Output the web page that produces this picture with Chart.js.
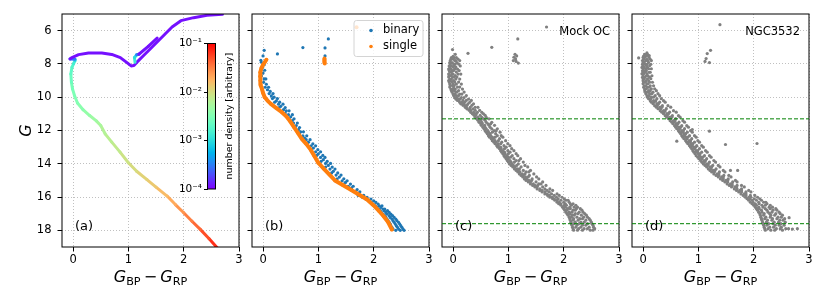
<!DOCTYPE html>
<html><head><meta charset="utf-8">
<script src="https://cdn.jsdelivr.net/npm/chart.js@4.4.1/dist/chart.umd.min.js"></script>
<style>
html,body{margin:0;padding:0;background:#fff;}
#wrap{position:relative;width:830px;height:291px;overflow:hidden;background:#fff;}
canvas{position:absolute;}
</style></head><body>
<div id="wrap">
<canvas id="ca"></canvas><canvas id="cb"></canvas><canvas id="cc"></canvas><canvas id="cd"></canvas><canvas id="cbar"></canvas>
</div>
<script>
// ---------------- data ----------------
const xTicks = [0, 1, 2, 3];
const yTicks = [6, 8, 10, 12, 14, 16, 18];
const cbTicks = [1e-4, 1e-3, 1e-2, 1e-1];
const cbLabels = ['10\u207B\u2074', '10\u207B\u00B3', '10\u207B\u00B2', '10\u207B\u00B9'];
const panelLabels = ['(a)', '(b)', '(c)', '(d)'];
const clusterNames = ['Mock OC', 'NGC3532'];
const legendNames = ['binary', 'single'];
const cbTitle = 'number density [arbitrary]';
const cutMags = [11.3, 17.6];

// isochrone (panel a): colour, G, number density
const isoX = [2.62,2.46,2.30,2.15,2.00,1.85,1.70,1.50,1.33,1.15,1.00,0.85,0.70,0.58,0.50,0.42,0.30,0.18,0.08,0.03,-0.01,-0.03,-0.04,-0.02,0.01,0.035,0.035,-0.055,-0.02,0.10,0.28,0.52,0.70,0.855,0.98,1.05,1.10,1.16,1.28,1.43,1.61,1.79,1.95,2.18,2.42,2.70];
const isoG = [19.1,18.5,17.94,17.45,16.94,16.45,15.94,15.40,14.94,14.45,13.94,13.30,12.70,12.20,11.70,11.42,11.10,10.75,10.35,9.94,9.50,9.10,8.60,8.20,7.98,7.80,7.72,7.70,7.62,7.44,7.34,7.35,7.43,7.62,7.94,8.12,8.10,7.88,7.48,6.98,6.38,5.78,5.40,5.22,5.08,5.02];
const isoDens = [0.076,0.058,0.044,0.035,0.029,0.022,0.018,0.0145,0.0126,0.011,0.0095,0.0083,0.0072,0.0068,0.0059,0.0051,0.0045,0.0039,0.0034,0.0032,0.0030,0.0026,0.0022,0.0019,0.0016,0.0012,0.0008,1.15e-4,1.15e-4,1.15e-4,1.15e-4,1.15e-4,1.15e-4,1.15e-4,1.15e-4,1.15e-4,1.15e-4,1.15e-4,1.15e-4,1.15e-4,1.15e-4,1.15e-4,1.15e-4,1.15e-4,1.15e-4,1.15e-4];
// red clump + AGB branch
const agbX = [1.12,1.11,1.15,1.19,1.36,1.52];
const agbG = [7.90,7.62,7.45,7.42,6.95,6.45];
const agbDens = [0.0014,0.0012,0.0008,1.2e-4,1.15e-4,1.15e-4];

// panel b: single stars [colour, G]
const singleMS = [[0.06,7.75],[0.03,7.9],[0.0,8.05],[-0.03,8.25],[-0.05,8.5],[-0.055,8.75],[-0.05,9.0],[-0.04,9.25],[-0.02,9.5],[0.0,9.75],[0.03,10.0],[0.08,10.2],[0.14,10.4],[0.24,10.65],[0.34,10.9],[0.42,11.15],[0.49,11.45],[0.56,11.8],[0.63,12.15],[0.7,12.5],[0.78,12.8],[0.86,13.15],[0.93,13.55],[1.0,13.95],[1.1,14.3],[1.2,14.65],[1.3,15.0],[1.44,15.28],[1.58,15.55],[1.73,15.85],[1.88,16.15],[2.0,16.5],[2.1,16.85],[2.18,17.15],[2.26,17.5],[2.33,17.95]];
const singleEvolved = [[1.69,5.8],[1.11,7.68],[1.11,7.74],[1.11,7.8],[1.11,7.86],[1.11,7.92],[1.115,7.98]];
// binaries: isolated stars [colour, G] and rows [G, colour, colour, ...]
const binaryBright = [[0.02,7.18],[0.26,7.4],[0.72,7.02],[1.12,7.04],[1.18,6.5],[1.12,7.52],[0.0,7.52],[-0.04,7.78]];
const binaryRows = [[7.9,-0.03],[8.05,0.02],[8.2,-0.01],[8.38,-0.04,0.03],[8.55,0.0],[8.72,-0.03],[8.9,0.02,0.05],[9.1,0.01],[9.22,0.06],[9.4,0.04,0.1],[9.55,0.08],[9.65,0.13],[9.78,0.11,0.18],[9.92,0.15],[10.0,0.2],[10.08,0.17,0.26],[10.22,0.24],[10.3,0.21,0.3],[10.42,0.28,0.36],[10.55,0.32],[10.62,0.29,0.4],[10.75,0.37],[10.82,0.42,0.47],[10.95,0.4],[11.05,0.46,0.53],[11.18,0.5],[11.3,0.47,0.56],[11.4,0.53],[11.55,0.55,0.62],[11.7,0.6],[11.82,0.58,0.66],[11.95,0.64],[12.08,0.68,0.73],[12.2,0.66],[12.32,0.72,0.79],[12.45,0.75],[12.55,0.78,0.85],[12.7,0.82],[12.8,0.8,0.9],[12.92,0.87,0.95],[13.05,0.91],[13.15,0.88,0.99],[13.28,0.95,1.04],[13.4,1.0],[13.5,0.97,1.08],[13.62,1.04,1.12],[13.75,1.09],[13.85,1.05,1.16],[13.98,1.13,1.22],[14.1,1.18],[14.2,1.13,1.25],[14.32,1.21,1.3],[14.45,1.27],[14.55,1.24,1.35],[14.68,1.32,1.41],[14.8,1.38],[14.9,1.34,1.46],[15.02,1.43,1.52],[15.12,1.49],[15.22,1.46,1.58],[15.35,1.54,1.63],[15.45,1.6],[15.55,1.58,1.7],[15.68,1.67,1.75],[15.8,1.73],[15.9,1.72,1.82],[16.02,1.8,1.88],[16.12,1.86,1.95],[16.22,1.91,2.0],[16.32,1.96,2.04],[16.42,1.99,2.08],[16.52,2.03,2.1,2.15],[16.62,2.06,2.13],[16.72,2.09,2.17,2.2],[16.82,2.12,2.19,2.25],[16.92,2.14,2.22,2.28],[17.02,2.17,2.24,2.31],[17.12,2.2,2.28,2.34],[17.22,2.22,2.3,2.37],[17.32,2.24,2.33,2.4],[17.42,2.26,2.35,2.42],[17.52,2.28,2.37,2.45],[17.62,2.3,2.39,2.47],[17.72,2.31,2.41,2.49],[17.82,2.33,2.43,2.51],[17.92,2.35,2.45,2.53],[18.0,2.4,2.48,2.55]];

// panel c: isolated stars [colour, G] and rows [G, colour, ...]
const mockExtra = [[1.69,5.78],[1.17,6.5],[0.70,7.0],[0.27,7.36],[-0.01,7.14],[0.04,7.42],[0.0,7.55],[1.12,7.42],[1.15,7.52],[1.1,7.6],[1.13,7.7],[1.09,7.8],[1.14,7.85],[1.18,7.95]];
const mockRows = [[7.62,-0.03,0.02,0.06],[7.71,-0.04,0.0,0.09],[7.80,-0.05,0.03,0.05,0.12],[7.92,-0.06,-0.02,0.07],[8.01,-0.05,0.01,0.04,0.1],[8.12,-0.07,-0.03,0.02,0.13],[8.19,-0.06,0.0,0.05],[8.31,-0.08,-0.04,0.03,0.08],[8.40,-0.07,-0.01,0.01,0.11],[8.49,-0.06,-0.03,0.06],[8.61,-0.08,-0.02,0.0,0.09,0.14],[8.70,-0.07,-0.04,0.04],[8.79,-0.08,-0.01,0.02,0.07],[8.91,-0.06,-0.03,0.05,0.12],[9.00,-0.08,-0.05,0.01],[9.09,-0.07,-0.02,0.03,0.1],[9.21,-0.06,0.0,0.06,0.15],[9.30,-0.05,-0.01,0.02],[9.39,-0.06,0.01,0.08,0.12],[9.51,-0.04,0.0,0.04,0.17],[9.60,-0.03,0.02,0.1],[9.69,-0.02,0.05,0.07,0.2],[9.81,0.0,0.03,0.12,0.16],[9.90,0.01,0.06,0.1,0.24],[10.02,0.03,0.07,0.15,0.2],[10.11,0.05,0.11,0.13,0.28],[10.19,0.08,0.1,0.18,0.24,0.33],[10.31,0.12,0.16,0.21,0.3],[10.40,0.14,0.19,0.27,0.37],[10.49,0.18,0.21,0.25,0.34],[10.61,0.22,0.24,0.31,0.4,0.45],[10.70,0.25,0.3,0.36],[10.79,0.29,0.32,0.4,0.48],[10.91,0.32,0.37,0.44,0.52],[11.00,0.35,0.4,0.42,0.55],[11.09,0.38,0.41,0.49,0.58],[11.21,0.4,0.45,0.52,0.6],[11.30,0.43,0.46,0.55,0.65],[11.39,0.45,0.5,0.58],[11.51,0.47,0.52,0.6,0.7],[11.60,0.5,0.53,0.63,0.68],[11.69,0.51,0.57,0.65,0.75],[11.81,0.54,0.58,0.67],[11.90,0.56,0.6,0.7,0.8],[12.01,0.58,0.63,0.74,0.78],[12.10,0.6,0.64,0.71,0.85],[12.19,0.62,0.67,0.77],[12.31,0.64,0.68,0.8,0.87],[12.40,0.66,0.71,0.76,0.9],[12.49,0.69,0.73,0.84],[12.61,0.71,0.76,0.82,0.95],[12.70,0.74,0.77,0.88],[12.79,0.76,0.81,0.86,0.99],[12.91,0.79,0.82,0.92,1.03],[13.00,0.81,0.86,0.96],[13.09,0.84,0.87,0.93,1.06],[13.21,0.86,0.9,0.99,1.1],[13.30,0.88,0.93,1.03],[13.39,0.9,0.94,1.0,1.14],[13.51,0.92,0.97,1.07,1.17],[13.60,0.94,0.99,1.04],[13.69,0.96,1.0,1.1,1.22],[13.81,0.98,1.03,1.14,1.19],[13.90,1.0,1.05,1.11,1.27],[14.01,1.02,1.07,1.18],[14.10,1.05,1.09,1.15,1.3],[14.19,1.08,1.12,1.23,1.35],[14.31,1.11,1.16,1.2],[14.40,1.14,1.18,1.27,1.4],[14.49,1.17,1.21,1.32,1.37],[14.61,1.2,1.25,1.3,1.46],[14.70,1.23,1.27,1.38],[14.79,1.26,1.31,1.36,1.51],[14.91,1.29,1.33,1.43,1.55],[15.00,1.32,1.37,1.42],[15.09,1.36,1.4,1.5,1.62],[15.21,1.4,1.45,1.55,1.59],[15.30,1.44,1.48,1.53,1.68],[15.39,1.48,1.52,1.62],[15.51,1.52,1.57,1.66,1.75],[15.60,1.57,1.61,1.7,1.8],[15.69,1.61,1.66,1.74],[15.81,1.66,1.7,1.78,1.88],[15.90,1.71,1.74,1.83,1.92],[16.01,1.75,1.79,1.87,1.97],[16.10,1.8,1.83,1.9,2.01],[16.19,1.84,1.88,1.95,2.04,2.08],[16.31,1.88,1.92,2.0,2.1],[16.40,1.91,1.95,2.03,2.12,2.17],[16.49,1.95,2.01,2.05,2.14,2.22],[16.61,1.98,2.03,2.11,2.19,2.25],[16.70,2.0,2.07,2.12,2.23,2.3],[16.79,2.02,2.06,2.17,2.21,2.33],[16.91,2.04,2.1,2.15,2.28,2.35],[17.00,2.06,2.11,2.21,2.26,2.38],[17.09,2.08,2.15,2.19,2.32,2.41],[17.21,2.1,2.14,2.24,2.36,2.43],[17.30,2.11,2.18,2.29,2.34,2.46],[17.39,2.12,2.17,2.26,2.4,2.48],[17.51,2.13,2.21,2.31,2.37,2.5],[17.60,2.14,2.19,2.28,2.43,2.51],[17.69,2.15,2.24,2.34,2.4,2.53],[17.81,2.16,2.22,2.31,2.46,2.54],[17.90,2.17,2.27,2.37,2.43,2.56],[17.99,2.18,2.25,2.34,2.48,2.53]];

// panel d
const ngcExtra = [[1.39,5.64],[1.22,7.18],[1.16,7.38],[1.14,7.68],[1.2,7.92],[1.12,7.85],[-0.08,7.64],[0.07,7.34],[0.11,7.5],[1.2,12.04],[0.89,11.94],[1.49,12.84],[2.06,12.78],[0.61,12.64],[1.58,14.4],[1.71,14.4],[2.64,17.24],[2.79,17.9],[2.63,17.9],[2.7,17.92]];
const ngcRows = [[7.42,0.03,0.08],[7.53,0.01,0.06,0.1],[7.61,0.0,0.03,0.11],[7.72,0.01,0.07,0.13],[7.80,-0.01,0.05,0.08,0.15],[7.91,0.0,0.02,0.1],[8.02,-0.01,0.04,0.07,0.14],[8.10,0.0,0.06,0.12],[8.21,-0.02,0.02,0.08],[8.29,0.0,0.05,0.1,0.15],[8.41,-0.01,0.03,0.06],[8.50,0.0,0.04,0.11,0.13],[8.59,-0.02,0.01,0.07],[8.71,0.0,0.06,0.09,0.16],[8.80,-0.01,0.03,0.12],[8.89,0.0,0.02,0.08,0.14],[9.01,0.0,0.05,0.1],[9.10,0.01,0.04,0.12,0.17],[9.19,0.0,0.07,0.09],[9.31,0.02,0.05,0.13,0.19],[9.40,0.01,0.08,0.11],[9.49,0.03,0.06,0.15,0.21],[9.61,0.03,0.1,0.13,0.24],[9.70,0.05,0.09,0.18],[9.79,0.05,0.12,0.16,0.27],[9.91,0.07,0.11,0.22,0.3],[10.00,0.08,0.15,0.19],[10.09,0.1,0.14,0.25,0.33],[10.21,0.13,0.19,0.23,0.37],[10.30,0.15,0.2,0.3,0.4],[10.39,0.18,0.25,0.28],[10.51,0.21,0.26,0.35,0.45],[10.60,0.24,0.31,0.34,0.5],[10.69,0.27,0.32,0.42],[10.81,0.31,0.37,0.4,0.55],[10.90,0.34,0.38,0.48,0.6],[10.99,0.37,0.43,0.46],[11.11,0.4,0.44,0.53,0.64],[11.20,0.43,0.49,0.52,0.67],[11.29,0.46,0.5,0.59],[11.41,0.49,0.55,0.58,0.72],[11.50,0.52,0.56,0.65,0.75],[11.59,0.54,0.6,0.63],[11.71,0.57,0.61,0.7,0.79],[11.80,0.59,0.65,0.68,0.82],[11.89,0.61,0.66,0.75],[12.01,0.64,0.7,0.73,0.86],[12.10,0.66,0.71,0.8,0.89],[12.19,0.68,0.74,0.77],[12.31,0.7,0.75,0.84,0.93],[12.40,0.72,0.78,0.81,0.96],[12.49,0.74,0.79,0.88],[12.61,0.77,0.83,0.86,0.99],[12.70,0.79,0.84,0.93,1.02],[12.79,0.81,0.87,0.9],[12.91,0.84,0.89,0.97,1.06],[13.00,0.86,0.92,0.95,1.09],[13.09,0.88,0.93,1.02],[13.21,0.9,0.96,0.99,1.13],[13.30,0.92,0.97,1.06,1.16],[13.39,0.94,1.0,1.03],[13.51,0.96,1.02,1.11,1.2],[13.60,0.99,1.05,1.08,1.23],[13.69,1.01,1.06,1.15],[13.81,1.04,1.1,1.13,1.28],[13.90,1.06,1.11,1.2,1.31],[14.01,1.09,1.15,1.18],[14.10,1.12,1.17,1.26,1.36],[14.19,1.15,1.21,1.24,1.39],[14.31,1.18,1.23,1.32],[14.40,1.21,1.27,1.3,1.45],[14.49,1.24,1.29,1.38,1.48],[14.61,1.28,1.34,1.37],[14.70,1.32,1.37,1.46,1.55],[14.79,1.36,1.42,1.45,1.59],[14.91,1.4,1.45,1.54],[15.00,1.44,1.5,1.53,1.67],[15.09,1.48,1.53,1.62,1.7],[15.21,1.52,1.58,1.61],[15.30,1.56,1.61,1.7,1.78],[15.39,1.6,1.66,1.69,1.83],[15.51,1.65,1.7,1.78],[15.60,1.69,1.75,1.78,1.91],[15.69,1.73,1.78,1.86,1.95],[15.81,1.77,1.83,1.86],[15.90,1.81,1.86,1.94,2.02],[16.01,1.85,1.91,1.95,2.07],[16.10,1.88,1.93,2.01,2.11],[16.19,1.91,1.97,2.05,2.14],[16.31,1.94,1.99,2.09,2.18,2.22],[16.40,1.97,2.03,2.1,2.24],[16.49,2.0,2.05,2.15,2.21,2.3],[16.61,2.03,2.09,2.17,2.28,2.34],[16.70,2.05,2.1,2.21,2.3,2.4],[16.79,2.07,2.14,2.24,2.35,2.42],[16.91,2.09,2.15,2.26,2.33,2.46],[17.00,2.11,2.19,2.29,2.4,2.48],[17.09,2.12,2.18,2.31,2.38,2.52],[17.21,2.13,2.22,2.3,2.44,2.5],[17.30,2.14,2.2,2.34,2.42,2.56],[17.39,2.15,2.25,2.33,2.47,2.53],[17.51,2.16,2.23,2.37,2.45,2.57],[17.60,2.17,2.27,2.35,2.49],[17.69,2.18,2.24,2.39,2.46,2.55],[17.81,2.19,2.29,2.36,2.5],[17.90,2.2,2.26,2.41,2.48,2.58],[17.99,2.21,2.31,2.38,2.52]];

// ---------------- drawing ----------------
const FONT = '"DejaVu Sans", sans-serif';
Chart.defaults.font.family = FONT;
Chart.defaults.font.size = 11.5;
Chart.defaults.color = '#000';
Chart.defaults.animation = false;

function rainbow(t) {
  t = Math.max(0, Math.min(1, t));
  const r = Math.min(1, Math.abs(2 * t - 0.5)), g = Math.sin(Math.PI * t), b = Math.cos(Math.PI * t / 2);
  return `rgb(${Math.round(r*255)},${Math.round(g*255)},${Math.round(b*255)})`;
}
const densT = d => (Math.log10(d) - Math.log10(cbTicks[0])) / (Math.log10(cbTicks[cbTicks.length-1]) - Math.log10(cbTicks[0]));
const toPts = arr => arr.map(p => ({x: p[0], y: p[1]}));
const rowPts = rows => rows.flatMap(r => r.slice(1).map(x => ({x, y: r[0]})));
const zip = (xs, ys) => xs.map((x, i) => ({x, y: ys[i]}));

function setupCanvas(id, left, top, w, h) {
  const c = document.getElementById(id);
  c.width = w; c.height = h;
  c.style.left = left + 'px'; c.style.top = top + 'px';
  c.style.width = w + 'px'; c.style.height = h + 'px';
  return c;
}

const gridOpts = {color: '#b0b0b0', lineWidth: 0.8, tickLength: 4.5, tickColor: '#000', tickWidth: 1, tickBorderDash: [], drawTicks: true};
const borderOpts = {display: false, dash: [1, 2]};

function xAxis() {
  return {
    type: 'linear', min: -0.2, max: 3,
    afterBuildTicks: s => { s.ticks = xTicks.map(v => ({value: v})); },
    ticks: {autoSkip: false, maxRotation: 0, padding: 2, callback: v => String(v)},
    grid: gridOpts, border: borderOpts,
    afterFit: s => { s.height = 44; s.paddingLeft = 0; s.paddingRight = 0; }
  };
}
function yAxis(width, showLabels) {
  return {
    type: 'linear', reverse: true, min: 5, max: 19,
    afterBuildTicks: s => { s.ticks = yTicks.map(v => ({value: v})); },
    ticks: {display: showLabels, autoSkip: false, padding: 6, callback: v => String(v)},
    grid: gridOpts, border: borderOpts,
    afterFit: s => { s.width = width; s.paddingTop = 0; s.paddingBottom = 0; }
  };
}

function drawXLabel(chart) {
  const {ctx, chartArea: a} = chart;
  const size = 16, sub = size * 0.7;
  const parts = [
    {t: 'G', f: `italic ${size}px ${FONT}`, dy: 0, gap: 0},
    {t: 'BP', f: `${sub}px ${FONT}`, dy: size * 0.2, gap: 0},
    {t: '\u2212', f: `${size}px ${FONT}`, dy: 0, gap: size * 0.2},
    {t: 'G', f: `italic ${size}px ${FONT}`, dy: 0, gap: size * 0.2},
    {t: 'RP', f: `${sub}px ${FONT}`, dy: size * 0.2, gap: 0}
  ];
  ctx.save();
  let total = 0;
  parts.forEach(p => { ctx.font = p.f; p.w = ctx.measureText(p.t).width; total += p.gap + p.w; });
  let x = (a.left + a.right) / 2 - total / 2;
  const base = 282;
  ctx.fillStyle = '#000'; ctx.textBaseline = 'alphabetic'; ctx.textAlign = 'left';
  parts.forEach(p => {
    x += p.gap;
    ctx.font = p.f;
    ctx.fillText(p.t, x, base + p.dy);
    x += p.w;
  });
  ctx.restore();
}

const framePlugin = {
  id: 'frame',
  afterDatasetsDraw(chart) {
    const {ctx, chartArea: a} = chart;
    ctx.save(); ctx.strokeStyle = '#000'; ctx.lineWidth = 1;
    ctx.strokeRect(a.left, a.top, a.right - a.left, a.bottom - a.top);
    ctx.restore();
  }
};

function panelPlugin(idx, opts) {
  return {
    id: 'panel' + idx,
    afterDatasetsDraw(chart) {
      const {ctx, chartArea: a} = chart;
      ctx.save();
      if (opts.cuts) {
        ctx.strokeStyle = '#008000'; ctx.lineWidth = 1; ctx.setLineDash([4, 2]);
        cutMags.forEach(g => {
          const y = chart.scales.y.getPixelForValue(g);
          ctx.beginPath(); ctx.moveTo(a.left, y); ctx.lineTo(a.right, y); ctx.stroke();
        });
        ctx.setLineDash([]);
      }
      ctx.fillStyle = '#000';
      ctx.font = `13px ${FONT}`; ctx.textAlign = 'left'; ctx.textBaseline = 'middle';
      ctx.fillText(panelLabels[idx], a.left + 13, a.bottom - 20);
      if (opts.name) {
        ctx.font = `11.5px ${FONT}`; ctx.textAlign = 'right';
        ctx.fillText(opts.name, a.right - 9, a.top + 18);
      }
      if (opts.legend) {
        const w = 69, h = 36, x0 = a.right - 6 - w, y0 = a.top + 6.5, r = 2.5;
        ctx.beginPath();
        ctx.moveTo(x0 + r, y0); ctx.lineTo(x0 + w - r, y0); ctx.arcTo(x0 + w, y0, x0 + w, y0 + r, r);
        ctx.lineTo(x0 + w, y0 + h - r); ctx.arcTo(x0 + w, y0 + h, x0 + w - r, y0 + h, r);
        ctx.lineTo(x0 + r, y0 + h); ctx.arcTo(x0, y0 + h, x0, y0 + h - r, r);
        ctx.lineTo(x0, y0 + r); ctx.arcTo(x0, y0, x0 + r, y0, r); ctx.closePath();
        ctx.fillStyle = 'rgba(255,255,255,0.8)'; ctx.fill();
        ctx.strokeStyle = '#d4d4d4'; ctx.lineWidth = 1; ctx.stroke();
        const cols = ['#1f77b4', '#ff7f0e'];
        legendNames.forEach((n, i) => {
          const yy = y0 + 10 + i * 16;
          ctx.fillStyle = cols[i]; ctx.beginPath(); ctx.arc(x0 + 17, yy, 1.8, 0, Math.PI * 2); ctx.fill();
          ctx.fillStyle = '#000'; ctx.font = `11.5px ${FONT}`; ctx.textAlign = 'left'; ctx.textBaseline = 'middle';
          ctx.fillText(n, x0 + 29, yy);
        });
      }
      ctx.restore();
    },
    afterDraw(chart) {
      drawXLabel(chart);
      if (opts.ylabel) {
        const ctx = chart.ctx;
        ctx.save(); ctx.translate(30.5, (chart.chartArea.top + chart.chartArea.bottom) / 2);
        ctx.rotate(-Math.PI / 2);
        ctx.font = `italic 16px ${FONT}`; ctx.fillStyle = '#000'; ctx.textAlign = 'center'; ctx.textBaseline = 'alphabetic';
        ctx.fillText('G', 0, 0); ctx.restore();
      }
    }
  };
}

function baseOptions(yW, showY, pad) {
  return {
    responsive: false, maintainAspectRatio: false, animation: false, events: [],
    layout: {padding: pad},
    plugins: {legend: {display: false}, tooltip: {enabled: false}},
    scales: {x: xAxis(), y: yAxis(yW, showY)}
  };
}

function isoDataset(xs, gs, ds, order) {
  return {
    type: 'line', data: zip(xs, gs), order,
    borderWidth: 3, pointRadius: 0, fill: false, tension: 0,
    borderCapStyle: 'round', borderJoinStyle: 'round',
    borderColor: rainbow(densT(ds[0])),
    segment: {borderColor: c => rainbow((densT(ds[c.p0DataIndex]) + densT(ds[c.p1DataIndex])) / 2)}
  };
}
function scatterDs(points, color, order, r) {
  return {type: 'scatter', data: points, backgroundColor: color, borderWidth: 0, pointRadius: r, order};
}

// panel a
new Chart(setupCanvas('ca', 0, 0, 245, 291), {
  type: 'scatter',
  data: {datasets: [isoDataset(isoX, isoG, isoDens, 1), isoDataset(agbX, agbG, agbDens, 0)]},
  options: baseOptions(62, true, {top: 14, right: 6, left: 0, bottom: 0}),
  plugins: [framePlugin, panelPlugin(0, {ylabel: true})]
});
// panel b
new Chart(setupCanvas('cb', 245, 0, 190, 291), {
  type: 'scatter',
  data: {datasets: [
    {type: 'line', data: toPts(singleMS), borderColor: '#ff7f0e', borderWidth: 4, pointRadius: 1.8, pointBackgroundColor: '#ff7f0e', pointBorderWidth: 0, fill: false, tension: 0, borderCapStyle: 'round', borderJoinStyle: 'round', order: 0},
    scatterDs(toPts(singleEvolved), '#ff7f0e', 0, 2),
    scatterDs(toPts(binaryBright).concat(rowPts(binaryRows)), '#1f77b4', 1, 1.6)
  ]},
  options: baseOptions(7, false, {top: 14, right: 6, left: 0, bottom: 0}),
  plugins: [framePlugin, panelPlugin(1, {legend: true})]
});
// panel c
new Chart(setupCanvas('cc', 435, 0, 190, 291), {
  type: 'scatter',
  data: {datasets: [scatterDs(toPts(mockExtra).concat(rowPts(mockRows)), '#808080', 0, 1.6)]},
  options: baseOptions(7, false, {top: 14, right: 6, left: 0, bottom: 0}),
  plugins: [framePlugin, panelPlugin(2, {cuts: true, name: clusterNames[0]})]
});
// panel d
new Chart(setupCanvas('cd', 625, 0, 205, 291), {
  type: 'scatter',
  data: {datasets: [scatterDs(toPts(ngcExtra).concat(rowPts(ngcRows)), '#808080', 0, 1.6)]},
  options: baseOptions(7, false, {top: 14, right: 21, left: 0, bottom: 0}),
  plugins: [framePlugin, panelPlugin(3, {cuts: true, name: clusterNames[1]})]
});
// colour bar
new Chart(setupCanvas('cbar', 170, 33, 70, 166), {
  type: 'bar',
  data: {labels: [''], datasets: [{
    data: [[cbTicks[0], cbTicks[cbTicks.length - 1]]],
    barPercentage: 1, categoryPercentage: 1, borderWidth: 0,
    backgroundColor: c => {
      const a = c.chart.chartArea; if (!a) return '#888';
      const g = c.chart.ctx.createLinearGradient(0, a.bottom, 0, a.top);
      for (let i = 0; i <= 20; i++) g.addColorStop(i / 20, rainbow(i / 20));
      return g;
    }
  }]},
  options: {
    responsive: false, maintainAspectRatio: false, animation: false, events: [],
    layout: {padding: {top: 10.5, right: 24.5, bottom: 10, left: 0}},
    plugins: {legend: {display: false}, tooltip: {enabled: false}},
    scales: {
      x: {display: false},
      y: {type: 'logarithmic', min: cbTicks[0], max: cbTicks[cbTicks.length - 1], position: 'left',
        afterBuildTicks: s => { s.ticks = cbTicks.map(v => ({value: v})); },
        ticks: {autoSkip: false, padding: 2, font: {size: 10.5}, callback: (v, i) => cbLabels[i]},
        grid: {drawOnChartArea: false, tickLength: 3.5, tickColor: '#000', color: '#000'},
        border: {display: false},
        afterFit: s => { s.width = 37.5; s.paddingTop = 0; s.paddingBottom = 0; }
      }
    }
  },
  plugins: [framePlugin, {
    id: 'cblabel',
    afterDraw(chart) {
      const ctx = chart.ctx, a = chart.chartArea;
      ctx.save(); ctx.translate(62, (a.top + a.bottom) / 2); ctx.rotate(-Math.PI / 2);
      ctx.font = `9.5px ${FONT}`; ctx.fillStyle = '#000'; ctx.textAlign = 'center'; ctx.textBaseline = 'alphabetic';
      ctx.fillText(cbTitle, 0, 0); ctx.restore();
    }
  }]
});
</script>
</body></html>
